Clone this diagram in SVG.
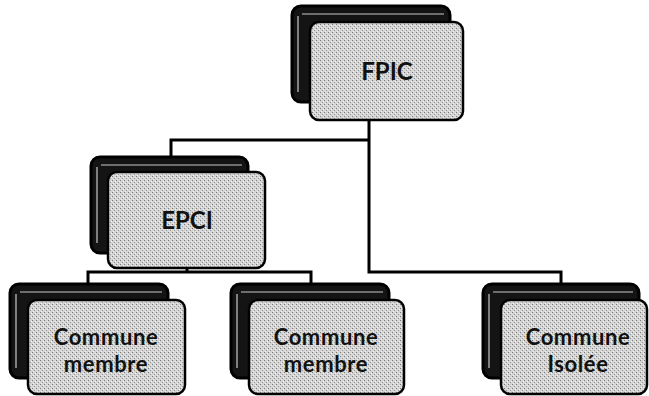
<svg xmlns="http://www.w3.org/2000/svg" width="649" height="396" viewBox="0 0 649 396">
  <defs>
    <!-- speckled light-gray fill for the front cards -->
    <pattern id="speckle" width="4" height="4" patternUnits="userSpaceOnUse">
      <rect width="4" height="4" fill="#d4d4d4"/>
      <rect x="0" y="0" width="1" height="1" fill="#7a7a7a"/>
      <rect x="2" y="2" width="1" height="1" fill="#9a9a9a"/>
      <rect x="3" y="1" width="1" height="1" fill="#f2f2f2"/>
      <rect x="1" y="3" width="1" height="1" fill="#efefef"/>
    </pattern>
  </defs>
  <style>
    .back { fill: #141414; stroke: #000; stroke-width: 3; }
    .inner { fill: none; stroke: #c8c8c8; stroke-width: 1.2; }
    .front { fill: url(#speckle); stroke: #000; stroke-width: 2.5; }
    .label { font-family: Lato, "Open Sans", "Liberation Sans", sans-serif; font-size: 24px; font-weight: 700; fill: #111; text-anchor: middle; }
    .small { font-size: 22px; letter-spacing: 0.6px; }
    .link { fill: none; stroke: #000; stroke-width: 3; stroke-linejoin: miter; }
  </style>

  <rect width="649" height="396" fill="#fff"/>

  <!-- connectors -->
  <g id="connectors" class="link">
    <path d="M369 120 V272 H561 V284"/>
    <path d="M369 140 H171 V158"/>
    <path d="M187 268 V272"/>
    <path d="M88 285 V272 H311 V285"/>
  </g>

  <!-- FPIC -->
  <g id="node-fpic">
    <rect class="back" x="292" y="6" width="158" height="96" rx="9"/>
    <path class="inner" d="M298 16 V92 M302 14 H444"/>
    <rect class="front" x="310" y="22" width="153" height="98" rx="9"/>
    <text class="label" x="387" y="80">FPIC</text>
  </g>

  <!-- EPCI -->
  <g id="node-epci">
    <rect class="back" x="91" y="157" width="157" height="96" rx="9"/>
    <path class="inner" d="M97 167 V243 M101 165 H242"/>
    <rect class="front" x="108" y="172" width="157" height="96" rx="9"/>
    <text class="label" x="187" y="229">EPCI</text>
  </g>

  <!-- Commune membre (1) -->
  <g id="node-commune-membre-1">
    <rect class="back" x="10" y="284" width="158" height="94" rx="9"/>
    <path class="inner" d="M16 294 V368 M20 292 H162"/>
    <rect class="front" x="28" y="300" width="157" height="94" rx="9"/>
    <text class="label small" x="106" y="345">Commune</text>
    <text class="label small" x="106" y="372">membre</text>
  </g>

  <!-- Commune membre (2) -->
  <g id="node-commune-membre-2">
    <rect class="back" x="231" y="284" width="158" height="94" rx="9"/>
    <path class="inner" d="M237 294 V368 M241 292 H383"/>
    <rect class="front" x="249" y="300" width="155" height="94" rx="9"/>
    <text class="label small" x="326" y="345">Commune</text>
    <text class="label small" x="326" y="372">membre</text>
  </g>

  <!-- Commune isolée -->
  <g id="node-commune-isolee">
    <rect class="back" x="483" y="284" width="156" height="94" rx="9"/>
    <path class="inner" d="M489 294 V368 M493 292 H633"/>
    <rect class="front" x="501" y="300" width="146" height="94" rx="9"/>
    <text class="label small" x="578" y="345">Commune</text>
    <text class="label small" x="578" y="372">Isolée</text>
  </g>
</svg>
